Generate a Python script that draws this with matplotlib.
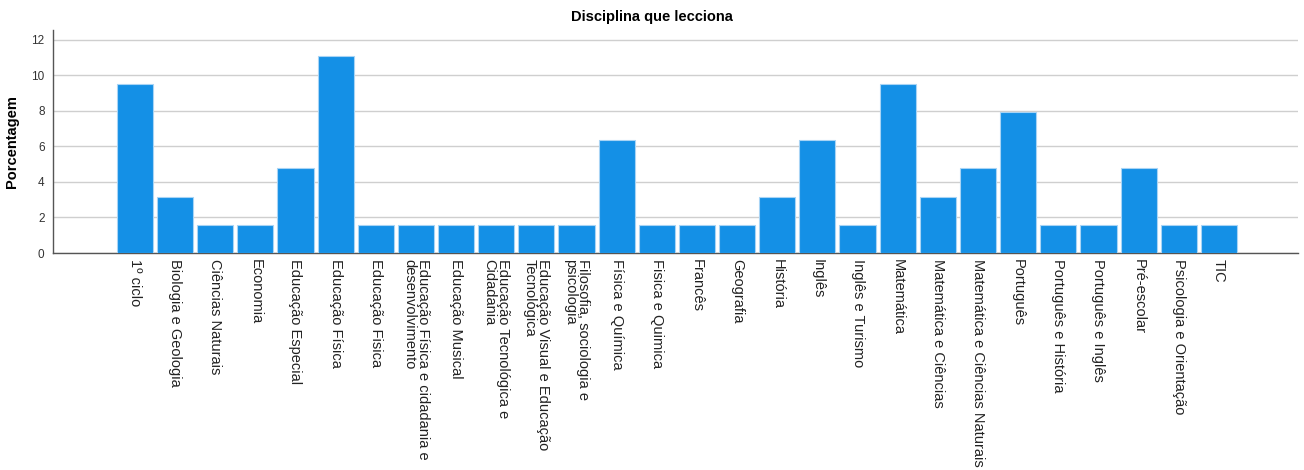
import matplotlib.pyplot as plt
import numpy as np

plt.rcParams['font.family'] = ['Liberation Sans', 'DejaVu Sans']

# Disciplines taught (n = 63 respondents)
disciplinas = [
    "1º ciclo", "Biologia e Geologia", "Ciências Naturais", "Economia",
    "Educação Especial", "Educação Física", "Educação Fisica",
    "Educação Física e cidadania e\ndesenvolvimento", "Educação Musical",
    "Educação Tecnológica e\nCidadania", "Educação Visual e Educação\nTecnológica",
    "Filosofia, sociologia e\npsicologia", "Física e Química", "Fisica e Quimica",
    "Francês", "Geografia", "História", "Inglês", "Inglês e Turismo",
    "Matemática", "Matemática e Ciências", "Matemática e Ciências Naturais",
    "Português", "Português e História", "Português e Inglês", "Pré-escolar",
    "Psicologia e Orientação", "TIC",
]
contagens = [6, 2, 1, 1, 3, 7, 1, 1, 1, 1, 1, 1, 4, 1, 1, 1, 2, 4, 1, 6, 2, 3,
             5, 1, 1, 3, 1, 1]

total = sum(contagens)
porcentagem = [100 * c / total for c in contagens]
x = np.arange(len(disciplinas))

fig = plt.figure(figsize=(13.04, 4.70), dpi=100)
ax = fig.add_axes([0.0406, 0.4617, 0.9548, 0.4745])

ax.bar(x, porcentagem, width=0.9, color='#1490e6', edgecolor='#a8d4f5',
       linewidth=0.8, zorder=3)

ax.set_xlim(-2.04, 28.97)
ax.set_ylim(0, 12.56)
ax.set_yticks(np.arange(0, 13, 2))
ax.yaxis.grid(True, color='#cfcfcf', linewidth=1.0, zorder=0)
ax.set_axisbelow(True)

ax.set_xticks(x)
ax.set_xticklabels(disciplinas, rotation=-90, va='top', ha='center',
                   fontsize=10.5, color='#222222', multialignment='left',
                   linespacing=0.95)
ax.tick_params(axis='x', length=0, pad=4)
ax.tick_params(axis='y', length=0, pad=6, labelsize=8.5, labelcolor='#333333')

for side in ['top', 'right']:
    ax.spines[side].set_visible(False)
for side in ['left', 'bottom']:
    ax.spines[side].set_color('#555555')
    ax.spines[side].set_linewidth(1.0)

ax.set_ylabel("Porcentagem", fontsize=10.5, fontweight='bold', labelpad=9)
fig.text(0.5, 0.963, "Disciplina que lecciona", ha='center', va='center',
         fontsize=10.5, fontweight='bold')

fig.savefig("out.png", dpi=100)
